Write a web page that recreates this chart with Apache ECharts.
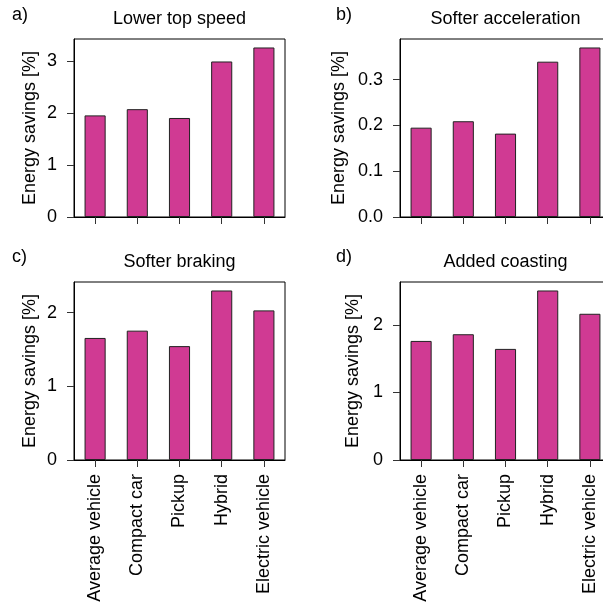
<!DOCTYPE html>
<html>
<head>
<meta charset="utf-8">
<script src="https://cdn.jsdelivr.net/npm/echarts@6/dist/echarts.min.js"></script>
<style>
  html, body { margin: 0; padding: 0; background: #fff; }
  #chart { width: 603px; height: 611px; }
</style>
</head>
<body>
<div id="chart"></div>
<script>
const vehicles = ['Average vehicle', 'Compact car', 'Pickup', 'Hybrid', 'Electric vehicle'];
const panelTitles = ['Lower top speed', 'Softer acceleration', 'Softer braking', 'Added coasting'];
const panelLetters = ['a)', 'b)', 'c)', 'd)'];
const topSpeed = [1.96, 2.08, 1.91, 3.00, 3.27];
const acceleration = [0.195, 0.209, 0.182, 0.339, 0.370];
const braking = [1.656, 1.755, 1.545, 2.30, 2.03];
const coasting = [1.763, 1.862, 1.645, 2.51, 2.165];
const ticksA = [0, 1, 2, 3];
const ticksB = [0, 0.1, 0.2, 0.3];
const ticksC = [0, 1, 2];
const ticksD = [0, 1, 2];

const font = "'Liberation Sans', Arial, sans-serif";
const barColor = '#d03a93';

const panels = [
    { data: topSpeed, ticks: ticksA, digits: 0, left: 74, top: 39, gap: 35, bottom: false },
    { data: acceleration, ticks: ticksB, digits: 1, left: 400, top: 39, gap: 52, bottom: false },
    { data: braking, ticks: ticksC, digits: 0, left: 74, top: 282, gap: 35, bottom: true },
    { data: coasting, ticks: ticksD, digits: 0, left: 400, top: 282, gap: 38, bottom: true }
];

const chart = echarts.init(document.getElementById('chart'));

const grids = [], xAxes = [], yAxes = [], series = [], graphics = [];

panels.forEach((p, i) => {
    grids.push({
        left: p.left, top: p.top, width: 211, height: 178,
        show: true, borderColor: '#000', borderWidth: 1,
        containLabel: false, outerBoundsMode: 'none'
    });
    xAxes.push({
        type: 'category', gridIndex: i, data: vehicles,
        axisLine: { show: true, lineStyle: { color: '#000', width: 1 } },
        axisTick: { show: true, alignWithLabel: true, interval: 0, length: 7, lineStyle: { color: '#333', width: 1 } },
        axisLabel: {
            show: p.bottom, rotate: 90, margin: 14, interval: 0,
            fontSize: 18, color: '#000', fontFamily: font
        }
    });
    yAxes.push({
        type: 'value', gridIndex: i, min: 0,
        max: Math.max(...p.data) * 1.05,
        splitLine: { show: false },
        axisLine: { show: true, lineStyle: { color: '#000', width: 1 } },
        axisTick: { show: true, length: 7, customValues: p.ticks, lineStyle: { color: '#333' } },
        axisLabel: {
            customValues: p.ticks, margin: 17, fontSize: 18, color: '#000', fontFamily: font,
            formatter: v => v.toFixed(p.digits)
        },
        name: 'Energy savings [%]', nameLocation: 'middle', nameGap: p.gap,
        nameTextStyle: { fontSize: 18, color: '#000', fontFamily: font }
    });
    series.push({
        type: 'bar', xAxisIndex: i, yAxisIndex: i, data: p.data,
        barWidth: '50%',
        itemStyle: { color: barColor, borderColor: '#222', borderWidth: 1 },
        silent: true
    });
    const row = i < 2 ? 0 : 1;
    graphics.push({
        type: 'text', x: p.left + 105.5, y: row ? 262 : 19,
        style: { text: panelTitles[i], fontSize: 18, fontFamily: font, fill: '#000', align: 'center', verticalAlign: 'middle' }
    });
    graphics.push({
        type: 'text', x: i % 2 ? 336 : 12, y: row ? 257 : 15,
        style: { text: panelLetters[i], fontSize: 18, fontFamily: font, fill: '#000', align: 'left', verticalAlign: 'middle' }
    });
});

chart.setOption({
    animation: false,
    grid: grids,
    xAxis: xAxes,
    yAxis: yAxes,
    series: series,
    graphic: graphics
});
</script>
</body>
</html>
